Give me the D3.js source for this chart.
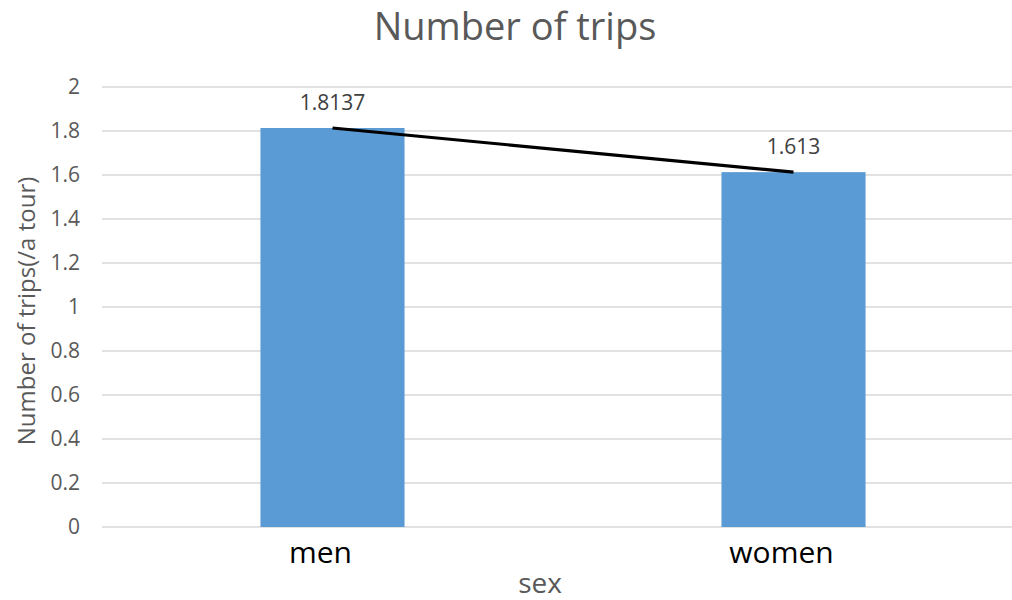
<!DOCTYPE html>
<html>
<head>
<meta charset="utf-8">
<script src="https://cdn.jsdelivr.net/npm/d3@7"></script>
<style>
  html, body { margin: 0; padding: 0; background: #ffffff; }
  svg { display: block; font-family: "Open Sans", "Noto Sans", sans-serif; }
</style>
</head>
<body>
<svg id="chart" width="1012" height="600"></svg>
<script>
// Average number of trips per tour, by sex
const categories = ["men", "women"];
const tripValues = [1.8137, 1.613];
const valueLabels = ["1.8137", "1.613"];
const yTicks = [0, 0.2, 0.4, 0.6, 0.8, 1, 1.2, 1.4, 1.6, 1.8, 2];
const yTickLabels = ["0", "0.2", "0.4", "0.6", "0.8", "1", "1.2", "1.4", "1.6", "1.8", "2"];

const svg = d3.select("#chart");

const x = d3.scaleBand().domain(categories).range([102, 1024]).padding(0);
const y = d3.scaleLinear().domain([0, 2]).range([527, 87]);
const barWidth = x.bandwidth() * 0.3125;

// horizontal gridlines
svg.append("g")
  .selectAll("line")
  .data(yTicks)
  .join("line")
  .attr("x1", x.range()[0])
  .attr("x2", x.range()[1])
  .attr("y1", d => y(d))
  .attr("y2", d => y(d))
  .attr("stroke", "#d9d9d9")
  .attr("stroke-width", 1.5);

// y axis tick labels
const yAxis = d3.axisLeft(y)
  .tickValues(yTicks)
  .tickFormat((d, i) => yTickLabels[i])
  .tickSize(0)
  .tickPadding(22);
const yg = svg.append("g").attr("transform", "translate(102,0)").call(yAxis);
yg.select(".domain").remove();
yg.selectAll("text")
  .attr("font-family", "'Open Sans', sans-serif")
  .attr("font-size", 21)
  .attr("fill", "#595959");

// bars
svg.append("g")
  .selectAll("rect")
  .data(tripValues)
  .join("rect")
  .attr("x", (d, i) => x(categories[i]) + x.bandwidth() / 2 - barWidth / 2)
  .attr("width", barWidth)
  .attr("y", d => y(d))
  .attr("height", d => y(0) - y(d))
  .attr("fill", "#5b9bd5");

// line joining the bar tops
const line = d3.line()
  .x((d, i) => x(categories[i]) + x.bandwidth() / 2)
  .y(d => y(d));
svg.append("path")
  .datum(tripValues)
  .attr("d", line)
  .attr("fill", "none")
  .attr("stroke", "#000000")
  .attr("stroke-width", 3.2);

// value labels
svg.append("g")
  .selectAll("text")
  .data(tripValues)
  .join("text")
  .attr("x", (d, i) => x(categories[i]) + x.bandwidth() / 2)
  .attr("y", d => y(d) - 18)
  .attr("text-anchor", "middle")
  .attr("font-size", 21)
  .attr("fill", "#404040")
  .text((d, i) => valueLabels[i]);

// x axis category labels
const xAxis = d3.axisBottom(x).tickSize(0).tickPadding(0);
const xg = svg.append("g").attr("transform", "translate(0,527)").call(xAxis);
xg.select(".domain").remove();
xg.selectAll("text")
  .attr("font-family", "'Open Sans', sans-serif")
  .attr("font-size", 30)
  .attr("fill", "#000000")
  .attr("dy", null)
  .attr("y", 36)
  .attr("dx", -12);

// chart title
svg.append("text")
  .attr("x", 515)
  .attr("y", 40)
  .attr("text-anchor", "middle")
  .attr("font-size", 38)
  .attr("fill", "#595959")
  .text("Number of trips");

// axis titles
svg.append("text")
  .attr("x", 540)
  .attr("y", 593)
  .attr("text-anchor", "middle")
  .attr("font-size", 28)
  .attr("fill", "#595959")
  .text("sex");

svg.append("text")
  .attr("transform", "translate(35,311) rotate(-90)")
  .attr("text-anchor", "middle")
  .attr("font-size", 24)
  .attr("fill", "#595959")
  .text("Number of trips(/a tour)");
</script>
</body>
</html>
